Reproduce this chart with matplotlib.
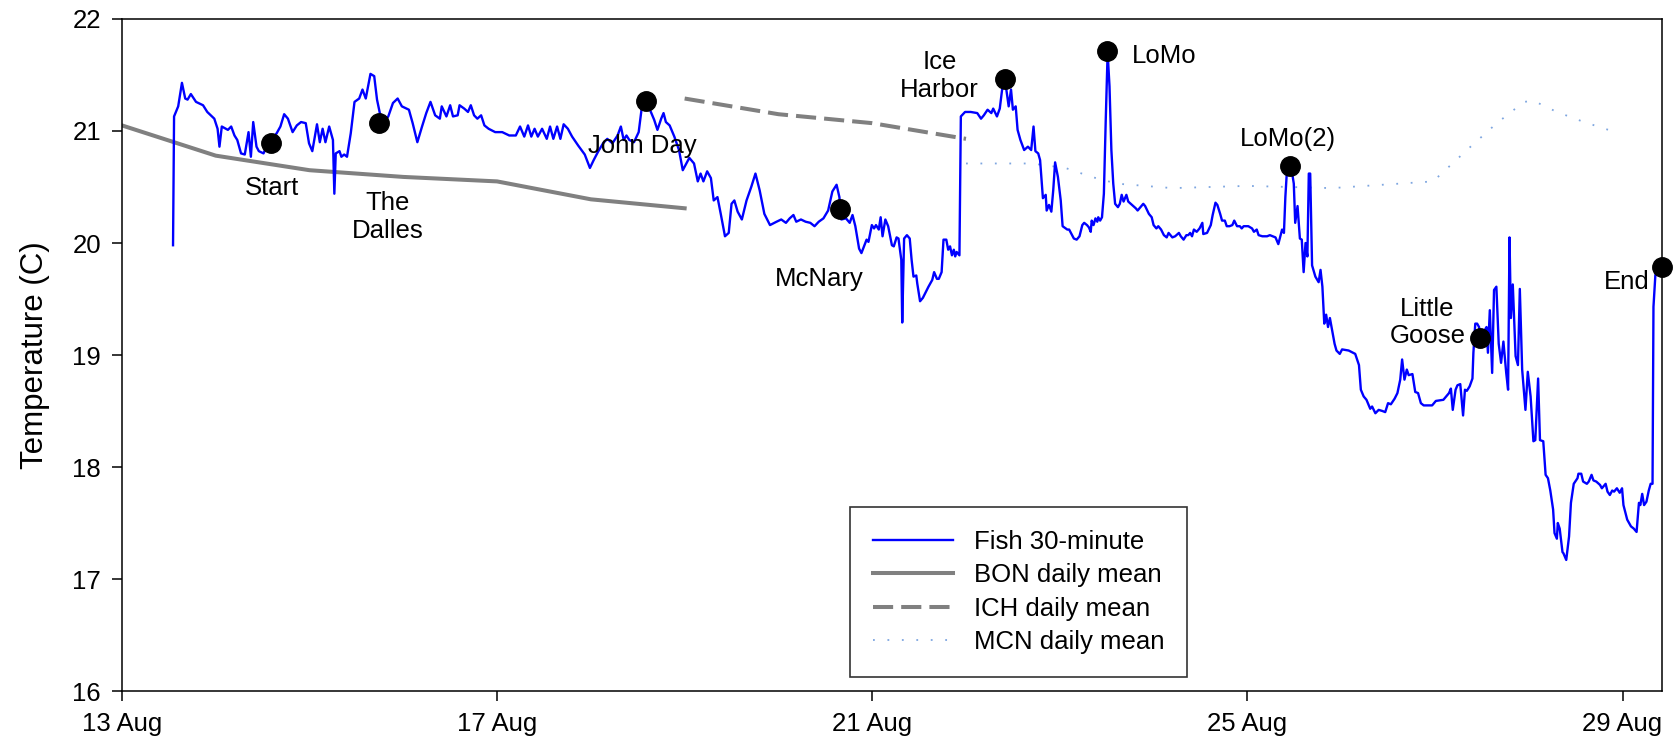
import numpy as np
import pandas as pd
import matplotlib
matplotlib.use("Agg")
import matplotlib.pyplot as plt
import matplotlib.dates as mdates

plt.rcParams['font.family'] = ['Liberation Sans', 'DejaVu Sans']

# days since 13 Aug 00:00
start = pd.Timestamp("2002-08-13")

fish_day = [
    0.545, 0.556, 0.60, 0.64, 0.675, 0.70, 0.735, 0.79, 0.865, 0.91,
    0.985, 1.02, 1.04, 1.065, 1.13, 1.165, 1.20, 1.23, 1.27, 1.31,
    1.35, 1.375, 1.40, 1.435, 1.46, 1.51, 1.555, 1.65, 1.69, 1.73,
    1.77, 1.82, 1.865, 1.91, 1.96, 1.995, 2.03, 2.08, 2.11, 2.14,
    2.17, 2.21, 2.25, 2.265, 2.28, 2.32, 2.34, 2.37, 2.40, 2.44,
    2.48, 2.53, 2.565, 2.60, 2.65, 2.69, 2.72, 2.75, 2.79, 2.84,
    2.89, 2.94, 2.985, 3.06, 3.10, 3.15, 3.20, 3.245, 3.29, 3.34,
    3.39, 3.41, 3.46, 3.50, 3.53, 3.58, 3.60, 3.65, 3.69, 3.72,
    3.755, 3.79, 3.83, 3.865, 3.91, 3.98, 4.055, 4.13, 4.20, 4.245,
    4.29, 4.33, 4.365, 4.40, 4.435, 4.48, 4.53, 4.565, 4.60, 4.64,
    4.675, 4.71, 4.755, 4.80, 4.865, 4.935, 4.99, 5.03, 5.08, 5.13,
    5.175, 5.23, 5.285, 5.32, 5.35, 5.38, 5.41, 5.46, 5.51, 5.54,
    5.58, 5.63, 5.675, 5.71, 5.75, 5.775, 5.80, 5.84, 5.89, 5.94,
    5.98, 6.05, 6.10, 6.14, 6.17, 6.20, 6.24, 6.28, 6.31, 6.35,
    6.385, 6.43, 6.47, 6.50, 6.53, 6.565, 6.61, 6.66, 6.71, 6.755,
    6.80, 6.85, 6.91, 6.98, 7.03, 7.08, 7.12, 7.16, 7.19, 7.24,
    7.29, 7.34, 7.385, 7.43, 7.48, 7.53, 7.575, 7.62, 7.65, 7.67,
    7.72, 7.76, 7.79, 7.82, 7.86, 7.885, 7.94, 7.96, 7.996, 8.02,
    8.04, 8.07, 8.09, 8.11, 8.14, 8.17, 8.21, 8.23, 8.26, 8.28,
    8.31, 8.32, 8.34, 8.37, 8.40, 8.42, 8.44, 8.47, 8.48, 8.51,
    8.54, 8.57, 8.60, 8.64, 8.66, 8.69, 8.71, 8.74, 8.76, 8.79,
    8.81, 8.83, 8.85, 8.87, 8.885, 8.90, 8.93, 8.945, 8.99, 9.05,
    9.12, 9.16, 9.19, 9.23, 9.27, 9.29, 9.33, 9.36, 9.385, 9.41,
    9.43, 9.455, 9.48, 9.50, 9.53, 9.55, 9.58, 9.62, 9.66, 9.695,
    9.72, 9.74, 9.77, 9.79, 9.82, 9.85, 9.86, 9.885, 9.91, 9.93,
    9.95, 9.98, 10.01, 10.03, 10.08, 10.10, 10.15, 10.18, 10.21, 10.24,
    10.26, 10.29, 10.31, 10.33, 10.34, 10.36, 10.38, 10.40, 10.41, 10.43,
    10.45, 10.47, 10.49, 10.51, 10.53, 10.55, 10.57, 10.59, 10.62, 10.64,
    10.66, 10.68, 10.71, 10.73, 10.77, 10.81, 10.83, 10.86, 10.89, 10.91,
    10.95, 10.98, 11.00, 11.03, 11.05, 11.08, 11.11, 11.14, 11.16, 11.20,
    11.23, 11.27, 11.29, 11.32, 11.35, 11.37, 11.39, 11.41, 11.43, 11.46,
    11.49, 11.52, 11.53, 11.57, 11.61, 11.63, 11.66, 11.68, 11.71, 11.73,
    11.76, 11.78, 11.81, 11.84, 11.86, 11.89, 11.92, 11.94, 11.96, 12.01,
    12.05, 12.07, 12.10, 12.12, 12.16, 12.21, 12.24, 12.27, 12.30, 12.33,
    12.37, 12.39, 12.405, 12.42, 12.45, 12.48, 12.495, 12.51, 12.535, 12.56,
    12.58, 12.60, 12.62, 12.64, 12.655, 12.67, 12.69, 12.725, 12.76, 12.78,
    12.80, 12.82, 12.84, 12.86, 12.88, 12.90, 12.93, 12.95, 12.985, 13.01,
    13.08, 13.15, 13.19, 13.21, 13.24, 13.27, 13.31, 13.33, 13.365, 13.40,
    13.44, 13.47, 13.50, 13.53, 13.57, 13.60, 13.63, 13.65, 13.675, 13.70,
    13.72, 13.76, 13.79, 13.82, 13.85, 13.88, 13.97, 14.01, 14.09, 14.12,
    14.15, 14.17, 14.19, 14.22, 14.24, 14.27, 14.30, 14.32, 14.34, 14.37,
    14.40, 14.41, 14.43, 14.45, 14.47, 14.50, 14.53, 14.55, 14.565, 14.585,
    14.61, 14.63, 14.655, 14.68, 14.705, 14.73, 14.76, 14.78, 14.795, 14.81,
    14.83, 14.86, 14.885, 14.905, 14.93, 14.965, 14.99, 15.02, 15.05, 15.07,
    15.10, 15.12, 15.155, 15.18, 15.205, 15.23, 15.26, 15.275, 15.30, 15.31,
    15.33, 15.36, 15.37, 15.40, 15.43, 15.45, 15.48, 15.52, 15.53, 15.56,
    15.58, 15.62, 15.64, 15.67, 15.69, 15.72, 15.76, 15.78, 15.82, 15.84,
    15.865, 15.89, 15.91, 15.94, 15.97, 15.995, 16.01, 16.05, 16.09, 16.12,
    16.15, 16.175, 16.19, 16.21, 16.23, 16.255, 16.28, 16.30, 16.32, 16.33,
    16.35, 16.37,
]
fish_temp = [
    19.98, 21.13, 21.22, 21.43, 21.29, 21.28, 21.33, 21.26, 21.23, 21.17,
    21.11, 21.02, 20.86, 21.04, 21.01, 21.04, 20.96, 20.92, 20.80, 20.79,
    20.99, 20.77, 21.08, 20.86, 20.82, 20.80, 20.89, 20.98, 21.04, 21.15,
    21.11, 20.99, 21.05, 21.08, 21.07, 20.89, 20.82, 21.06, 20.90, 21.02,
    20.90, 21.04, 20.92, 20.44, 20.80, 20.82, 20.77, 20.79, 20.77, 20.98,
    21.26, 21.29, 21.37, 21.29, 21.51, 21.49, 21.28, 21.16, 21.07, 21.13,
    21.25, 21.29, 21.22, 21.19, 21.07, 20.90, 21.04, 21.16, 21.26, 21.14,
    21.11, 21.22, 21.13, 21.23, 21.13, 21.14, 21.23, 21.20, 21.17, 21.23,
    21.14, 21.11, 21.14, 21.05, 21.02, 20.99, 20.99, 20.96, 20.96, 21.04,
    20.95, 21.05, 20.95, 21.02, 20.95, 21.02, 20.93, 21.04, 20.93, 21.04,
    20.93, 21.06, 21.02, 20.95, 20.87, 20.79, 20.67, 20.74, 20.82, 20.89,
    20.93, 20.89, 20.96, 21.04, 20.92, 20.96, 20.92, 20.90, 20.99, 21.19,
    21.20, 21.19, 21.10, 21.01, 21.11, 21.16, 21.08, 21.05, 20.95, 20.83,
    20.65, 20.76, 20.71, 20.55, 20.62, 20.55, 20.64, 20.58, 20.38, 20.41,
    20.26, 20.06, 20.09, 20.35, 20.38, 20.28, 20.21, 20.38, 20.50, 20.62,
    20.47, 20.26, 20.16, 20.19, 20.21, 20.18, 20.22, 20.25, 20.19, 20.21,
    20.19, 20.18, 20.15, 20.19, 20.22, 20.29, 20.46, 20.52, 20.41, 20.21,
    20.22, 20.18, 20.25, 20.15, 19.95, 19.91, 20.03, 20.01, 20.16, 20.13,
    20.16, 20.12, 20.23, 20.06, 20.21, 20.15, 19.98, 19.97, 20.05, 20.04,
    19.85, 19.29, 20.04, 20.07, 20.04, 19.85, 19.70, 19.71, 19.64, 19.48,
    19.51, 19.56, 19.61, 19.67, 19.74, 19.68, 19.68, 19.74, 20.03, 20.03,
    19.94, 19.97, 19.89, 19.94, 19.88, 19.92, 19.89, 21.13, 21.17, 21.17,
    21.16, 21.11, 21.14, 21.19, 21.16, 21.20, 21.13, 21.20, 21.37, 21.43,
    21.37, 21.22, 21.37, 21.19, 21.22, 21.01, 20.92, 20.83, 20.86, 20.83,
    21.04, 20.82, 20.80, 20.74, 20.40, 20.43, 20.29, 20.34, 20.28, 20.47,
    20.72, 20.59, 20.38, 20.15, 20.12, 20.12, 20.04, 20.03, 20.06, 20.16,
    20.18, 20.16, 20.14, 20.10, 20.20, 20.16, 20.22, 20.19, 20.23, 20.20,
    20.23, 20.44, 21.10, 21.70, 21.40, 20.83, 20.53, 20.35, 20.32, 20.35,
    20.43, 20.37, 20.43, 20.37, 20.34, 20.31, 20.29, 20.32, 20.35, 20.33,
    20.26, 20.23, 20.16, 20.13, 20.15, 20.12, 20.07, 20.05, 20.09, 20.05,
    20.06, 20.09, 20.06, 20.03, 20.07, 20.07, 20.09, 20.06, 20.12, 20.10,
    20.13, 20.18, 20.08, 20.09, 20.16, 20.25, 20.36, 20.34, 20.26, 20.20,
    20.20, 20.15, 20.15, 20.16, 20.20, 20.15, 20.15, 20.13, 20.15, 20.15,
    20.13, 20.10, 20.12, 20.07, 20.06, 20.06, 20.07, 20.06, 20.05, 19.99,
    20.12, 20.09, 20.41, 20.62, 20.64, 20.61, 20.53, 20.18, 20.33, 20.04,
    20.03, 19.74, 20.00, 19.88, 20.62, 20.62, 19.80, 19.70, 19.65, 19.76,
    19.61, 19.28, 19.36, 19.25, 19.33, 19.24, 19.10, 19.04, 19.01, 19.05,
    19.04, 19.01, 18.91, 18.69, 18.63, 18.60, 18.52, 18.54, 18.48, 18.51,
    18.50, 18.49, 18.57, 18.56, 18.61, 18.66, 18.78, 18.96, 18.78, 18.87,
    18.82, 18.83, 18.67, 18.66, 18.57, 18.55, 18.55, 18.59, 18.60, 18.63,
    18.66, 18.70, 18.51, 18.69, 18.73, 18.74, 18.46, 18.69, 18.68, 18.72,
    18.79, 19.02, 19.28, 19.28, 19.25, 19.10, 19.22, 19.25, 19.02, 19.40,
    18.84, 19.58, 19.61, 19.10, 18.93, 19.12, 18.84, 18.69, 20.05, 19.33,
    19.63, 18.99, 18.91, 19.59, 18.87, 18.51, 18.85, 18.63, 18.23, 18.24,
    18.79, 18.24, 18.23, 17.93, 17.90, 17.79, 17.62, 17.41, 17.36, 17.50,
    17.45, 17.24, 17.23, 17.17, 17.38, 17.68, 17.85, 17.90, 17.94, 17.94,
    17.87, 17.85, 17.87, 17.93, 17.88, 17.87, 17.84, 17.81, 17.85, 17.78,
    17.75, 17.79, 17.78, 17.81, 17.77, 17.81, 17.66, 17.53, 17.47, 17.45,
    17.42, 17.68, 17.66, 17.76, 17.66, 17.69, 17.79, 17.85, 17.85, 19.43,
    19.71, 19.78,
]

bon_day = [0, 1, 2, 3, 4, 5, 6]
bon_temp = [21.05, 20.78, 20.65, 20.59, 20.55, 20.39, 20.31]

ich_day = [6, 7, 8, 9]
ich_temp = [21.29, 21.15, 21.07, 20.93]

mcn_day = [9.0, 9.7, 10.06, 10.34, 10.61, 11.2, 12.0, 12.9, 13.98,
           14.38, 14.66, 14.95, 15.05, 15.3, 15.59, 15.85]
mcn_temp = [20.71, 20.71, 20.67, 20.59, 20.53, 20.49, 20.51, 20.49, 20.55,
            20.86, 21.07, 21.26, 21.27, 21.17, 21.08, 21.01]

# dam passage markers and labels
site_names = ["Start", "The\nDalles", "John Day", "McNary", "Ice\nHarbor",
              "LoMo", "LoMo(2)", "Little\nGoose", "End"]
site_day = [1.594, 2.74, 5.59, 7.66, 9.42, 10.50, 12.45, 14.48, 16.42]
site_temp = [20.89, 21.07, 21.27, 20.30, 21.46, 21.71, 20.69, 19.15, 19.79]
label_day = [1.60, 2.83, 5.55, 7.44, 8.72, 11.11, 12.43, 13.92, 16.05]
label_temp = [20.49, 20.235, 20.87, 19.68, 21.49, 21.67, 20.93, 19.29, 19.655]


def to_time(days):
    return start + pd.to_timedelta(np.asarray(days, dtype=float), unit="D")


fig = plt.figure(figsize=(16.77, 7.48), dpi=100)
ax = fig.add_axes([0.0727, 0.0762, 0.9183, 0.8984])

ax.plot(to_time(fish_day), fish_temp, color="#0000ff", lw=1.7,
        label="Fish 30-minute", zorder=3)
ax.plot(to_time(bon_day), bon_temp, color="#808080", lw=2.9,
        label="BON daily mean", zorder=2)
ax.plot(to_time(ich_day), ich_temp, color="#808080", lw=2.9,
        linestyle=(0, (5, 2)), label="ICH daily mean", zorder=2)
ax.plot(to_time(mcn_day), mcn_temp, color="#7ea6e0", lw=1.3,
        linestyle=(0, (1, 7)), label="MCN daily mean", zorder=2)

ax.plot(to_time(site_day), site_temp, "o", color="black", markersize=14,
        clip_on=False, zorder=5)
for name, d, t in zip(site_names, label_day, label_temp):
    ax.text(to_time([d])[0], t, name, ha="center", va="center",
            fontsize=18.5, zorder=6)

ax.set_xlim(start, start + pd.Timedelta(days=16.42))
ax.set_ylim(16, 22)
ax.set_yticks(range(16, 23))
ax.set_xticks(to_time([0, 4, 8, 12, 16]))
ax.xaxis.set_major_formatter(mdates.DateFormatter("%d %b"))
ax.tick_params(direction="out", length=7, width=1.1, labelsize=18.5, pad=8)
for s in ax.spines.values():
    s.set_linewidth(1.1)
ax.set_ylabel("Temperature (C)", fontsize=22.5, labelpad=16)

leg = ax.legend(loc="lower left", bbox_to_anchor=(0.473, 0.021),
                borderaxespad=0, fontsize=18.5, frameon=True, fancybox=False,
                edgecolor="black", handlelength=3.1, handletextpad=0.8,
                borderpad=0.9, labelspacing=0.36)
leg.get_frame().set_linewidth(1.2)

fig.savefig("out.png", dpi=100)
